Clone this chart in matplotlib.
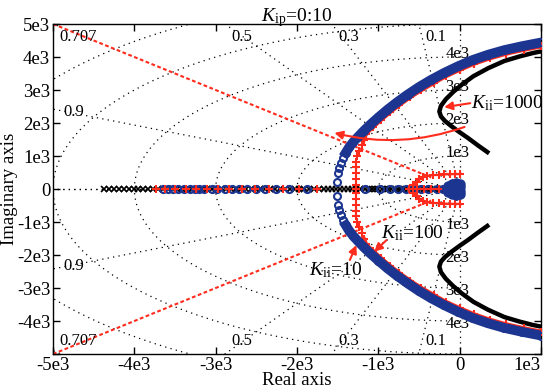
import matplotlib.pyplot as plt
import numpy as np

plt.rcParams['font.family'] = 'Liberation Serif'
plt.rcParams['mathtext.fontset'] = 'custom'
plt.rcParams['mathtext.rm'] = 'Liberation Serif'
plt.rcParams['mathtext.it'] = 'Liberation Serif:italic'
plt.rcParams['font.size'] = 12

# all values in units of 1e3
# Kii = 10 (blue o), upper branch
k10_x = [-1.51, -1.49, -1.48, -1.46, -1.43, -1.40, -1.36, -1.31, -1.25, -1.18, -1.10, -1.00,
         -0.89, -0.77, -0.64, -0.50, -0.35, -0.19, -0.02, 0.16, 0.35, 0.55, 0.77, 1.00]
k10_y = [0.21, 0.48, 0.64, 0.79, 0.95, 1.10, 1.26, 1.42, 1.58, 1.76, 1.95, 2.17,
         2.40, 2.63, 2.86, 3.09, 3.31, 3.52, 3.72, 3.91, 4.07, 4.21, 4.33, 4.44]
k10_real = [-3.65, -3.59, -3.52, -3.46, -3.39, -3.32, -3.26, -3.20, -3.14, -3.05, -2.98, -2.89,
            -2.80, -2.71, -2.61, -2.50, -2.39, -2.26, -2.10, -1.88, -1.17, -0.98, -0.86, -0.76,
            -0.66, -0.58, -0.48, -0.39, -0.28, -0.21, -0.09]
k10_orig_x = [-0.16, -0.14, -0.10, -0.05, 0.00, 0.01, -0.07, -0.11]
k10_orig_y = [0.00, 0.10, 0.16, 0.18, 0.14, 0.06, 0.08, 0.03]

# Kii = 100 (red +), upper branch
k100_x = [-1.28, -1.28, -1.27, -1.27, -1.27, -1.26, -1.24, -1.20, -1.18, -1.15, -1.07, -0.97,
          -0.86, -0.74, -0.61, -0.47, -0.32, -0.17, 0.00, 0.18, 0.37, 0.57, 0.79, 1.00]
k100_y = [0.12, 0.30, 0.48, 0.66, 0.83, 0.99, 1.15, 1.32, 1.50, 1.68, 1.87, 2.09,
          2.32, 2.55, 2.78, 3.00, 3.21, 3.42, 3.61, 3.80, 3.96, 4.10, 4.22, 4.32]
k100_real = [-3.73, -3.62, -3.50, -3.37, -3.24, -3.11, -2.97, -2.83, -2.68, -2.52, -2.35, -2.17,
             -1.97, -1.76, -1.27, -0.62, -0.53, -0.44, -0.35, -0.25, -0.15]
k100_orig_x = [-0.57, -0.53, -0.50, -0.45, -0.40, -0.33, -0.26, -0.19, -0.12, -0.06, 0.00]
k100_orig_y = [0.12, 0.22, 0.30, 0.36, 0.40, 0.42, 0.43, 0.44, 0.45, 0.45, 0.45]

# Kii = 1000 (black), upper branch
k1000_x = [0.34, 0.22, 0.10, 0.00, -0.10, -0.18, -0.23, -0.25, -0.23, -0.17, -0.08, 0.03,
           0.17, 0.35, 0.55, 0.74, 0.90, 1.00]
k1000_y = [1.12, 1.33, 1.55, 1.72, 1.90, 2.06, 2.20, 2.35, 2.52, 2.72, 2.94, 3.17,
           3.42, 3.66, 3.88, 4.02, 4.12, 4.17]
k1000_real = [-4.37, -4.31, -4.25, -4.19, -4.13, -4.07, -4.01, -3.95, -3.89, -3.83, -3.77, -3.71,
              -3.65, -3.59, -3.53, -3.47, -3.41, -3.35, -3.29, -3.23, -3.17, -3.11, -3.05, -2.99,
              -2.93, -2.87, -2.81, -2.75, -2.69, -2.63, -2.57, -2.51, -2.45, -2.39, -2.33, -2.27,
              -2.21, -2.15, -2.09, -2.03, -1.97, -1.91, -1.85, -1.79, -1.73, -1.67, -1.62, -1.57,
              -1.52, -1.47, -1.42, -1.37, -1.32, -1.27, -1.22, -1.17, -1.12, -1.08, -1.04, -1.00,
              -0.96, -0.92, -0.88, -0.84, -0.80, -0.76, -0.72, -0.68, -0.64, -0.60, -0.56, -0.52,
              -0.48, -0.44, -0.40, -0.36, -0.32, -0.28, -0.24, -0.20]

zetas = [0.1, 0.3, 0.5, 0.707, 0.9]
zeta_labels = ['0.1', '0.3', '0.5', '0.707', '0.9']
wns = [1, 2, 3, 4, 5, 6, 7]
wn_labels = ['1e3', '2e3', '3e3', '4e3']

xticks = [-5, -4, -3, -2, -1, 0, 1]
xticklabels = ['-5e3', '-4e3', '-3e3', '-2e3', '-1e3', '0', '1e3']
yticks = [-5, -4, -3, -2, -1, 0, 1, 2, 3, 4, 5]
yticklabels = ['', '-4e3', '-3e3', '-2e3', '-1e3', '0', '1e3', '2e3', '3e3', '4e3', '5e3']

blue = '#1c3591'
red = '#ff2b1c'
dot = (0, (1, 3.4))

fig = plt.figure(figsize=(5.5, 3.91), dpi=100)
ax = fig.add_axes([0.0964, 0.0946, 0.8872, 0.844])
ax.set_xlim(-5, 1)
ax.set_ylim(-5, 5)

# s-plane grid
for z in zetas + [1.0]:
    if z == 0.707:
        continue
    ang = np.arccos(z)
    r = 20
    ax.plot([0, -r * np.cos(ang)], [0, r * np.sin(ang)], color='k', ls=dot, lw=0.9, zorder=1)
    ax.plot([0, -r * np.cos(ang)], [0, -r * np.sin(ang)], color='k', ls=dot, lw=0.9, zorder=1)
ax.plot([0, 0], [-5, 5], color='k', ls=dot, lw=0.9, zorder=1)
th = np.linspace(np.pi / 2, 3 * np.pi / 2, 200)
for w in wns:
    ax.plot(w * np.cos(th), w * np.sin(th), color='k', ls=dot, lw=0.9, zorder=1)

# emphasised 0.707 line
ax.plot([-5, -0.35], [5, 0.35], color=red, ls=(0, (1.8, 1.2)), lw=1.5, zorder=2)
ax.plot([-5, -0.35], [-5, -0.35], color=red, ls=(0, (1.8, 1.2)), lw=1.5, zorder=2)

# damping labels
for z, lab in zip(zetas, zeta_labels):
    ang = np.arccos(z)
    xt = -5 * np.cos(ang) / np.sin(ang)
    if xt >= -5:
        ax.text(xt + 0.08, 4.85, lab, ha='left', va='top', zorder=3)
        ax.text(xt + 0.08, -4.85, lab, ha='left', va='bottom', zorder=3)
    else:
        yt = 5 * np.tan(ang)
        ax.text(-4.87, yt - 0.1, lab, ha='left', va='center', zorder=3)
        ax.text(-4.87, -yt + 0.1, lab, ha='left', va='center', zorder=3)
for w, lab in zip(wns, wn_labels):
    ax.text(-0.03, w + 0.1, lab, ha='center', va='center', zorder=3)
    ax.text(-0.03, -w - 0.1, lab, ha='center', va='center', zorder=3)

# Kii = 1000
for s in (1, -1):
    ax.plot(k1000_x, [s * v for v in k1000_y], color='k', lw=3.2, zorder=4)
ax.plot(k1000_real, [0] * len(k1000_real), 'x', color='k', ms=4, mew=1.2, zorder=4)

# Kii = 100 (under blue)
for s in (1, -1):
    ax.plot(k100_x[8:], [s * v for v in k100_y[8:]], '-', color=red, lw=3, zorder=5)
    ax.plot(k100_x, [s * v for v in k100_y], '+', color=red, ms=6, mew=1.5, zorder=5)
    ax.plot(k100_orig_x, [s * v for v in k100_orig_y], '-+', color=red, lw=1.5, ms=6, mew=1.5, zorder=7)
ax.plot(k100_real, [0] * len(k100_real), '+', color=red, ms=6, mew=1.5, zorder=7)

# Kii = 10
for s in (1, -1):
    ax.plot(k10_x[5:], [s * v for v in k10_y[5:]], '-', color=blue, lw=7, zorder=6)
    ax.plot(k10_x, [s * v for v in k10_y], 'o', color=blue, mfc='none', ms=5, mew=1.5, zorder=6)
    ax.plot(k10_orig_x, [s * v for v in k10_orig_y], 'o', color=blue, ms=6, mew=1.5, zorder=8)
ax.plot(k10_real, [0] * len(k10_real), 'o', color=blue, mfc='none', ms=5, mew=1.6, zorder=6)

# annotations
ap = dict(arrowstyle='-|>', color=red, lw=1.5, mutation_scale=12, shrinkA=0, shrinkB=0)
ax.annotate('', xy=(-0.19, 2.48), xytext=(0.13, 2.6), arrowprops=ap, zorder=9)
ax.text(0.14, 2.6, r'$K_{\mathrm{ii}}$=1000', ha='left', va='center', fontsize=14, zorder=9)
ax.annotate('', xy=(-1.54, 1.70), xytext=(0.06, 1.88),
            arrowprops=dict(ap, connectionstyle='arc3,rad=-0.15'), zorder=9)
ax.annotate('', xy=(-1.05, -1.9), xytext=(-0.9, -1.55), arrowprops=ap, zorder=9)
ax.text(-0.97, -1.33, r'$K_{\mathrm{ii}}$=100', ha='left', va='center', fontsize=14, zorder=9)
ax.annotate('', xy=(-1.27, -1.70), xytext=(-1.35, -2.15), arrowprops=ap, zorder=9)
ax.text(-1.85, -2.45, r'$K_{\mathrm{ii}}$=10', ha='left', va='center', fontsize=14, zorder=9)

ax.set_xticks(xticks)
ax.set_xticklabels(xticklabels)
ax.set_yticks(yticks)
ax.set_yticklabels(yticklabels)
ax.tick_params(direction='in', top=True, right=True, length=5, width=1, pad=2, labelsize=13.5)
ax.get_xticklabels()[-1].set_horizontalalignment('right')
for sp in ax.spines.values():
    sp.set_linewidth(1)
ax.set_xlabel('Real axis', labelpad=-1, fontsize=13.5)
ax.set_ylabel('Imaginary axis', labelpad=-1, fontsize=13.5)
ax.set_title(r'$K_{\mathrm{ip}}$=0:10', pad=2, fontsize=14)

plt.savefig('out.png', dpi=100)
